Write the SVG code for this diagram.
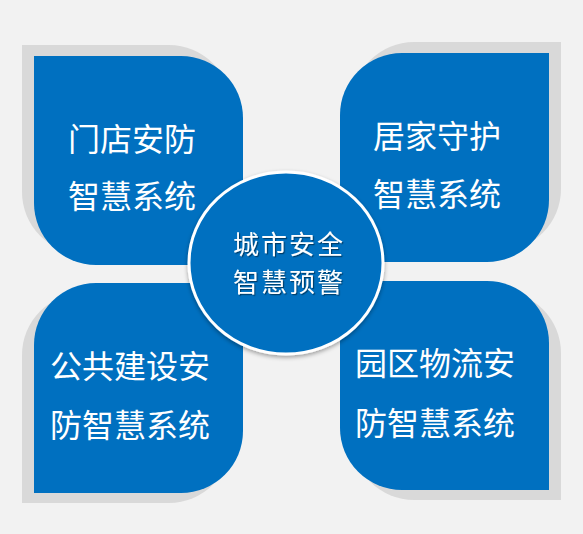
<svg xmlns="http://www.w3.org/2000/svg" width="583" height="534" viewBox="0 0 583 534">
<defs>
<style>
.shadow{fill:#D9D9D9}
.box{fill:#0070C0}
.t{font-family:"Noto Sans CJK SC","Noto Sans",sans-serif;fill:#FFFFFF;text-anchor:middle}
.big{font-size:32px}
.mid{font-size:26px;letter-spacing:2px}
</style>
<filter id="ts" x="-10%" y="-20%" width="130%" height="150%">
<feDropShadow dx="1.2" dy="1.2" stdDeviation="0.6" flood-color="#000000" flood-opacity="0.45"/>
</filter>
<filter id="cs" x="-10%" y="-10%" width="120%" height="125%">
<feDropShadow dx="0" dy="2" stdDeviation="2" flood-color="#000000" flood-opacity="0.35"/>
</filter>
</defs>
<rect x="0" y="0" width="583" height="534" fill="#F2F2F2"/>
<g id="node-tl">
<path class="shadow" transform="translate(-12,-11)" d="M34,56 H181 A62,62 0 0 1 243,118 V265 H96 A62,62 0 0 1 34,203 Z"/>
<path class="box" d="M34,56 H181 A62,62 0 0 1 243,118 V265 H96 A62,62 0 0 1 34,203 Z"/>
<text class="t big" x="132" y="151">门店安防</text>
<text class="t big" x="132" y="208">智慧系统</text>
</g>
<g id="node-tr">
<path class="shadow" transform="translate(12,-11)" d="M402,53 H549 V200 A62,62 0 0 1 487,262 H340 V115 A62,62 0 0 1 402,53 Z"/>
<path class="box" d="M402,53 H549 V200 A62,62 0 0 1 487,262 H340 V115 A62,62 0 0 1 402,53 Z"/>
<text class="t big" x="437" y="148">居家守护</text>
<text class="t big" x="437" y="206">智慧系统</text>
</g>
<g id="node-bl">
<path class="shadow" transform="translate(-12,10)" d="M96,283 H243 V431 A62,62 0 0 1 181,493 H34 V345 A62,62 0 0 1 96,283 Z"/>
<path class="box" d="M96,283 H243 V431 A62,62 0 0 1 181,493 H34 V345 A62,62 0 0 1 96,283 Z"/>
<text class="t big" x="130" y="378">公共建设安</text>
<text class="t big" x="130" y="437">防智慧系统</text>
</g>
<g id="node-br">
<path class="shadow" transform="translate(12,10)" d="M340,281 H487 A62,62 0 0 1 549,343 V490 H402 A62,62 0 0 1 340,428 Z"/>
<path class="box" d="M340,281 H487 A62,62 0 0 1 549,343 V490 H402 A62,62 0 0 1 340,428 Z"/>
<text class="t big" x="435" y="375">园区物流安</text>
<text class="t big" x="435" y="435">防智慧系统</text>
</g>
<g id="connectors"></g>
<g id="node-center">
<ellipse cx="286" cy="263" rx="97" ry="91" fill="#0070C0" stroke="#FFFFFF" stroke-width="3" filter="url(#cs)"/>
<g filter="url(#ts)">
<text class="t mid" x="289" y="254">城市安全</text>
<text class="t mid" x="289" y="292">智慧预警</text>
</g>
</g>
</svg>
